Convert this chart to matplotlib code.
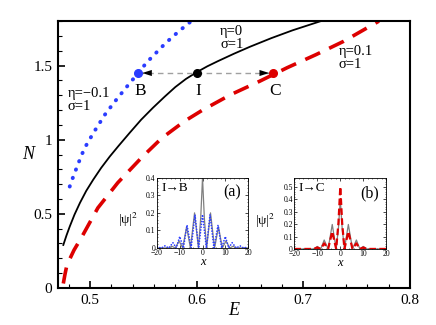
import matplotlib
matplotlib.use('Agg')
import matplotlib.pyplot as plt
from matplotlib.ticker import MultipleLocator

plt.rcParams['font.family'] = ['Liberation Serif', 'DejaVu Serif']
plt.rcParams['mathtext.fontset'] = 'stix'

# main curves N(E)
E_eta0 = [0.475, 0.478, 0.481, 0.4855, 0.4906, 0.4965, 0.503, 0.5105, 0.5186, 0.527, 0.5373, 0.548,
          0.559, 0.570, 0.580, 0.590, 0.600, 0.610, 0.620, 0.635, 0.650, 0.670, 0.690, 0.7165]
N_eta0 = [0.29, 0.355, 0.414, 0.495, 0.574, 0.655, 0.73, 0.81, 0.887, 0.96, 1.047, 1.135,
          1.215, 1.29, 1.355, 1.41, 1.455, 1.495, 1.53, 1.58, 1.627, 1.685, 1.738, 1.80]

E_etam = [0.481, 0.4845, 0.488, 0.4915, 0.495, 0.4995, 0.504, 0.509, 0.514, 0.5225, 0.531, 0.538,
          0.545, 0.553, 0.562, 0.570, 0.578, 0.5865, 0.595]
N_etam = [0.684, 0.755, 0.82, 0.885, 0.944, 1.0, 1.055, 1.112, 1.169, 1.25, 1.326, 1.388,
          1.446, 1.52, 1.586, 1.645, 1.698, 1.75, 1.80]

E_etap = [0.475, 0.4765, 0.4784, 0.485, 0.4924, 0.5074, 0.5261, 0.5485, 0.5672, 0.5887, 0.6056, 0.632,
          0.659, 0.685, 0.712, 0.738, 0.771]
N_etap = [0.03, 0.09, 0.155, 0.255, 0.345, 0.54, 0.71, 0.88, 1.01, 1.125, 1.2, 1.304,
          1.394, 1.486, 1.574, 1.664, 1.80]

# points B, I, C
pt_names = ['B', 'I', 'C']
pt_E = [0.545, 0.600, 0.672]
pt_N = [1.45, 1.45, 1.45]
pt_cols = ['#2a3cff', 'black', '#dd0000']

# inset (a): I -> B
xa_I = [-20, -14.5, -13.5, -12, -10.3, -8.7, -7, -5.3, -3.5, -1.8, -0.8, 0, 0.8, 1.8, 3.5, 5.3, 7, 8.7, 10.3, 12, 13.5, 14.5, 20]
ya_I = [0, 0, 0.01, 0, 0.04, 0, 0.12, 0, 0.2, 0, 0.17, 0.4, 0.17, 0, 0.2, 0, 0.12, 0, 0.04, 0, 0.01, 0, 0]
xa_B = [-20, -18, -16.5, -14.8, -13, -11.5, -10, -8.4, -6.8, -5, -3.3, -1.7, 0, 1.7, 3.3, 5, 6.8, 8.4, 10, 11.5, 13, 14.8, 16.5, 18, 20]
ya_B = [0.005, 0, 0.012, 0, 0.03, 0, 0.065, 0, 0.13, 0, 0.19, 0, 0.19, 0, 0.19, 0, 0.13, 0, 0.065, 0, 0.03, 0, 0.012, 0, 0.005]

# inset (b): I -> C
xb = [-20, -13, -11.5, -10, -8.5, -7, -5.3, -3.5, -1.8, -0.8, 0, 0.8, 1.8, 3.5, 5.3, 7, 8.5, 10, 11.5, 13, 20]
yb_I = [0, 0, 0, 0.02, 0, 0.072, 0, 0.197, 0, 0.17, 0.40, 0.17, 0, 0.197, 0, 0.072, 0, 0.02, 0, 0, 0]
yb_C = [0, 0, 0, 0.012, 0, 0.045, 0, 0.14, 0, 0.21, 0.50, 0.21, 0, 0.14, 0, 0.045, 0, 0.012, 0, 0, 0]

fig = plt.figure(figsize=(4.36, 3.25), dpi=100)
ax = fig.add_axes([0.133, 0.114, 0.807, 0.821])

ax.plot(E_eta0, N_eta0, color='black', lw=1.3)
ax.plot(E_etam, N_etam, color=pt_cols[0], lw=2.8, linestyle=(0, (0.1, 2.2)), dash_capstyle='round')
ax.plot(E_etap, N_etap, color=pt_cols[2], lw=2.6, linestyle=(0, (4.5, 2.8)))

# dashed guide line and arrows
ax.plot([pt_E[0], pt_E[2]], [pt_N[0], pt_N[2]], color='#a0a0a0', lw=1, linestyle=(0, (4, 3)), zorder=2)
for k in (0, 2):
    ax.annotate('', xy=(pt_E[k], pt_N[k]), xytext=(pt_E[1], pt_N[1]),
                arrowprops=dict(arrowstyle='-|>,head_length=0.7,head_width=0.22', color='black',
                                lw=0, shrinkA=0, shrinkB=3), zorder=3)
for name, e, n, c in zip(pt_names, pt_E, pt_N, pt_cols):
    ax.plot(e, n, 'o', color=c, ms=5.5, zorder=4)
    ax.text(e + 0.002, n - 0.065, name, fontsize=12.5, ha='center', va='top')

ax.text(0.622, 1.685, 'η=0\nσ=1', fontsize=10.5, ha='left', va='center', linespacing=1.0)
ax.text(0.7335, 1.55, 'η=0.1\nσ=1', fontsize=10.5, ha='left', va='center', linespacing=1.0)
ax.text(0.479, 1.265, 'η=−0.1\nσ=1', fontsize=10.5, ha='left', va='center', linespacing=1.0)

ax.set_xlim(0.47, 0.8)
ax.set_ylim(0, 1.8)
ax.xaxis.set_minor_locator(MultipleLocator(0.02))
ax.yaxis.set_minor_locator(MultipleLocator(0.1))
ax.set_xticks([0.5, 0.6, 0.7, 0.8])
ax.set_xticklabels(['0.5', '0.6', '0.7', '0.8'])
ax.set_yticks([0, 0.5, 1, 1.5])
ax.set_yticklabels(['0', '0.5', '1', '1.5'])
ax.tick_params(which='both', direction='in', labelsize=11, top=False, right=False)
ax.tick_params(which='major', length=5, width=1.2, pad=4)
ax.tick_params(which='minor', length=3, width=0.8)
for s in ax.spines.values():
    s.set_linewidth(1.5)
ax.set_xlabel('E', fontsize=13, style='italic', labelpad=-3)
ax.set_ylabel('N', fontsize=13, style='italic', rotation=0)
ax.yaxis.set_label_coords(-0.085, 0.47)


def inset(rect, ymax, yticks, tag, lab):
    a = fig.add_axes(rect)
    a.set_xlim(-20, 20)
    a.set_ylim(0, ymax)
    a.set_xticks([-20, -10, 0, 10, 20])
    a.set_yticks(yticks)
    a.set_yticklabels([('%g' % t) for t in yticks])
    a.xaxis.set_minor_locator(MultipleLocator(2))
    a.yaxis.set_minor_locator(MultipleLocator(0.02))
    a.tick_params(which='both', direction='in', labelsize=5.5, pad=1, top=True, right=True)
    a.tick_params(which='major', length=2, width=0.5)
    a.tick_params(which='minor', length=1, width=0.4)
    for s in a.spines.values():
        s.set_linewidth(0.6)
    a.set_xlabel('x', fontsize=9, style='italic', labelpad=-1)
    a.text(-0.32, 0.4, '|ψ|$^2$', fontsize=9.5, transform=a.transAxes, ha='center', va='center')
    a.text(0.05, 0.86, lab, fontsize=9.5, transform=a.transAxes, ha='left', va='center')
    a.text(0.82, 0.79, tag, fontsize=11.5, transform=a.transAxes, ha='center', va='center')
    return a


a1 = inset([0.360, 0.237, 0.209, 0.216], 0.4, [0, 0.1, 0.2, 0.3, 0.4], '(a)', 'I→B')
a1.plot(xa_I, ya_I, color='#808080', lw=0.9)
a1.plot(xa_B, ya_B, color=pt_cols[0], lw=1.2, linestyle=(0, (0.1, 1.6)), dash_capstyle='round')

a2 = inset([0.675, 0.234, 0.211, 0.218], 0.57, [0, 0.1, 0.2, 0.3, 0.4, 0.5], '(b)', 'I→C')
a2.plot(xb, yb_I, color='#808080', lw=0.9)
a2.plot(xb, yb_C, color=pt_cols[2], lw=1.6, linestyle=(0, (3, 1.5)))

fig.savefig('out.png', dpi=100)
